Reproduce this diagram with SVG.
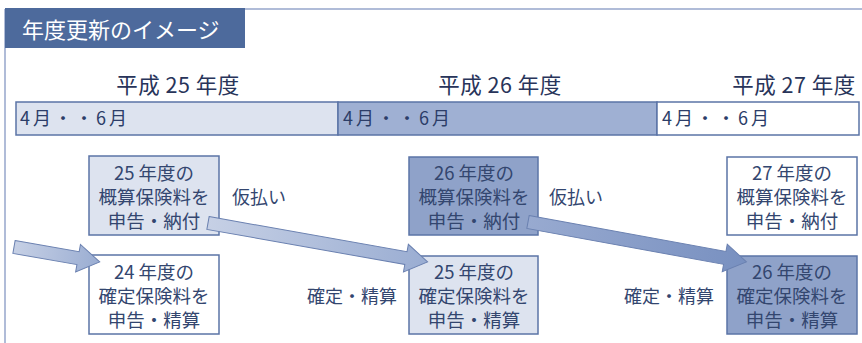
<svg xmlns="http://www.w3.org/2000/svg" width="862" height="343" viewBox="0 0 862 343">
<defs>
<style>
text{font-family:"Noto Sans CJK JP","Noto Sans",sans-serif;}
.yr{font-size:21.5px;fill:#28345a;text-anchor:middle;letter-spacing:0.5px;}
.mo{font-size:18px;fill:#2c3d68;letter-spacing:3px;}
.bx{stroke:#5b74a6;stroke-width:1.5;}
.lt{fill:#dde3ef;}
.md{fill:#8fa2c9;}
.wh{fill:#ffffff;}
.bt{font-size:18.5px;fill:#33466f;text-anchor:middle;}
.lb{font-size:18px;fill:#33466f;}
.ar{stroke:#6a80b0;stroke-width:1;}
</style>
<linearGradient id="ga" x1="0" y1="0" x2="1" y2="0">
<stop offset="0" stop-color="#c6d0e5"/><stop offset="1" stop-color="#9aadd2"/>
</linearGradient>
<linearGradient id="gb" x1="0" y1="0" x2="1" y2="0">
<stop offset="0" stop-color="#98aad0"/><stop offset="1" stop-color="#7890c0"/>
</linearGradient>
</defs>
<rect x="0" y="0" width="862" height="343" fill="#ffffff"/>
<g id="frame">
<path d="M5 9 H862 M5 9 V343" fill="none" stroke="#97a7cb" stroke-width="1.5"/>
<rect x="5" y="8" width="240" height="40" fill="#4d6a9c"/>
<text x="22" y="38" style="font-size:22px;fill:#ffffff;">年度更新のイメージ</text>
</g>
<g id="years">
<text class="yr" x="178" y="93">平成 25 年度</text>
<text class="yr" x="500" y="93">平成 26 年度</text>
<text class="yr" x="794" y="93">平成 27 年度</text>
</g>
<g id="timeline">
<rect class="bx lt" x="16" y="102" width="322" height="33"/>
<rect class="bx" x="338" y="102" width="319" height="33" fill="#9fb0d3"/>
<rect class="bx wh" x="657" y="102" width="202" height="33"/>
<text class="mo" x="20" y="125">4月・・6月</text>
<text class="mo" x="343" y="125">4月・・6月</text>
<text class="mo" x="662" y="125">4月・・6月</text>
</g>
<g id="n25est">
<rect class="bx lt" x="89" y="156" width="130" height="79"/>
<text class="bt" y="180"><tspan x="154">25 年度の</tspan><tspan x="154" dy="24">概算保険料を</tspan><tspan x="154" dy="24">申告・納付</tspan></text>
</g>
<g id="n26est">
<rect class="bx md" x="409" y="157" width="129" height="78"/>
<text class="bt" y="180"><tspan x="474">26 年度の</tspan><tspan x="474" dy="24">概算保険料を</tspan><tspan x="474" dy="24">申告・納付</tspan></text>
</g>
<g id="n27est">
<rect class="bx wh" x="727" y="157" width="130" height="78"/>
<text class="bt" y="180"><tspan x="792">27 年度の</tspan><tspan x="792" dy="24">概算保険料を</tspan><tspan x="792" dy="24">申告・納付</tspan></text>
</g>
<g id="n24fin">
<rect class="bx wh" x="89" y="255" width="130" height="79"/>
<text class="bt" y="279"><tspan x="154">24 年度の</tspan><tspan x="154" dy="24">確定保険料を</tspan><tspan x="154" dy="24">申告・精算</tspan></text>
</g>
<g id="n25fin">
<rect class="bx lt" x="409" y="256" width="129" height="78"/>
<text class="bt" y="279"><tspan x="474">25 年度の</tspan><tspan x="474" dy="24">確定保険料を</tspan><tspan x="474" dy="24">申告・精算</tspan></text>
</g>
<g id="n26fin">
<rect class="bx md" x="727" y="256" width="130" height="78"/>
<text class="bt" y="279"><tspan x="792">26 年度の</tspan><tspan x="792" dy="24">確定保険料を</tspan><tspan x="792" dy="24">申告・精算</tspan></text>
</g>
<g id="connectors">
<polygon class="ar" fill="url(#ga)" transform="translate(14,247) rotate(9.9)" points="0,-6.5 65,-6.5 65,-14 87,0 65,14 65,6.5 0,6.5"/>
<polygon class="ar" fill="url(#ga)" transform="translate(208,223) rotate(10.05)" points="0,-6.5 201,-6.5 201,-14 223,0 201,14 201,6.5 0,6.5"/>
<polygon class="ar" fill="url(#gb)" transform="translate(528,222) rotate(10.35)" points="0,-6.5 200,-6.5 200,-14 222,0 200,14 200,6.5 0,6.5"/>
<text class="lb" x="232" y="204">仮払い</text>
<text class="lb" x="549" y="204">仮払い</text>
<text class="lb" x="307" y="303">確定・精算</text>
<text class="lb" x="624" y="303">確定・精算</text>
</g>
</svg>
